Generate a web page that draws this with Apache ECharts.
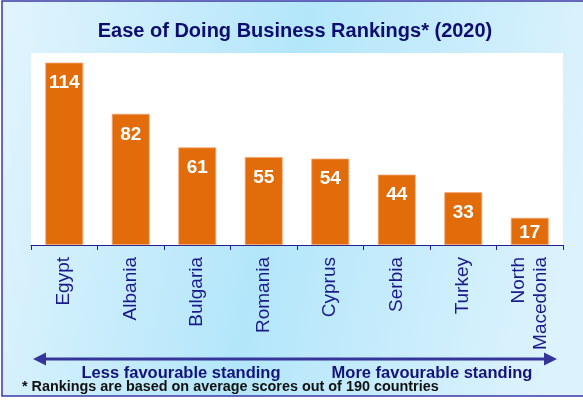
<!DOCTYPE html>
<html>
<head>
<meta charset="utf-8">
<script src="https://cdn.jsdelivr.net/npm/echarts@6/dist/echarts.min.js"></script>
<style>html,body{margin:0;padding:0;background:#fff;}#c{width:583px;height:401px;}</style>
</head>
<body>
<div id="c"></div>
<script>
const categories = ['Egypt', 'Albania', 'Bulgaria', 'Romania', 'Cyprus', 'Serbia', 'Turkey', 'North\nMacedonia'];
const rankings = [114, 82, 61, 55, 54, 44, 33, 17];
const titleText = 'Ease of Doing Business Rankings* (2020)';
const leftNote = 'Less favourable standing';
const rightNote = 'More favourable standing';
const footnote = '* Rankings are based on average scores out of 190 countries';

const chart = echarts.init(document.getElementById('c'), null, {renderer: 'canvas'});
const navy = '#13137a';
const ff = 'Arial, "Liberation Sans", sans-serif';
const barData = rankings.map(v => v < 25 ? {value: v, label: {distance: 5}} : v);
chart.setOption({
  animation: false,
  backgroundColor: '#ffffff',
  graphic: [
    {type: 'rect', z: -10, shape: {x: 2, y: 1, width: 590, height: 395},
     style: {fill: new echarts.graphic.LinearGradient(0, 0, 1, 0.3, [
        {offset: 0, color: '#e2f4fd'}, {offset: 0.5, color: '#b3e6fa'}, {offset: 1, color: '#dcf2fd'}]),
        stroke: '#3a3aa8', lineWidth: 1.5}},
    {type: 'text', x: 295, y: 31, style: {text: titleText, font: 'bold 20px ' + ff, fill: '#0d0d70', align: 'center', verticalAlign: 'middle'}},
    {type: 'line', shape: {x1: 40, y1: 359, x2: 551, y2: 359}, style: {stroke: '#36369a', lineWidth: 3}},
    {type: 'polygon', shape: {points: [[33, 359], [46, 352.5], [46, 365.5]]}, style: {fill: '#36369a'}},
    {type: 'polygon', shape: {points: [[557, 359], [544, 352.5], [544, 365.5]]}, style: {fill: '#36369a'}},
    {type: 'text', x: 181, y: 373, style: {text: leftNote, font: 'bold 16.5px ' + ff, fill: navy, align: 'center', verticalAlign: 'middle'}},
    {type: 'text', x: 432, y: 373, style: {text: rightNote, font: 'bold 16.5px ' + ff, fill: navy, align: 'center', verticalAlign: 'middle'}},
    {type: 'text', x: 22, y: 387, style: {text: footnote, font: 'bold 14.4px ' + ff, fill: '#111', align: 'left', verticalAlign: 'middle'}}
  ],
  grid: {left: 31, right: 20, top: 53, bottom: 156, backgroundColor: '#ffffff', show: true, borderWidth: 0},
  xAxis: {
    type: 'category', data: categories,
    axisLine: {lineStyle: {color: '#1f1f8f', width: 1}},
    axisTick: {show: true, length: 5, inside: false, lineStyle: {color: '#1f1f8f'}},
    axisLabel: {rotate: 90, margin: 12, fontSize: 19, color: '#1a1a8a', fontFamily: ff, lineHeight: 22, interval: 0}
  },
  yAxis: {type: 'value', min: 0, max: 120, show: false, splitLine: {show: false}},
  series: [{
    type: 'bar', data: barData, barCategoryGap: '43%',
    itemStyle: {color: '#e36c0a', borderColor: '#f2a878', borderWidth: 0.8},
    label: {show: true, position: 'insideTop', distance: 11, color: '#fff', fontWeight: 'bold', fontSize: 19, fontFamily: ff}
  }]
});
</script>
</body>
</html>
